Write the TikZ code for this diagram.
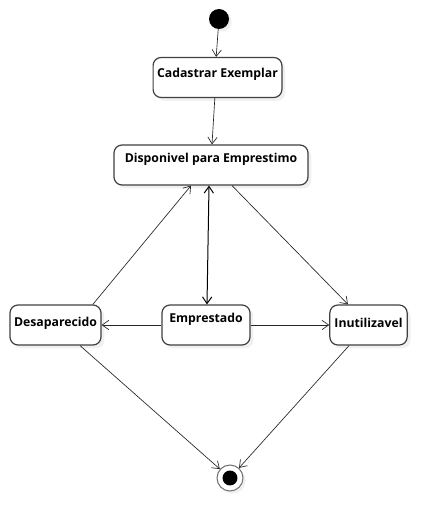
\documentclass[tikz,border=0pt]{standalone}
\usepackage{fontspec}
\setmainfont{Open Sans}
\usetikzlibrary{arrows.meta,shadows}

\tikzset{
  estado/.style={draw=black!75, line width=0.9pt, rounded corners=6pt, fill=white,
    minimum height=30pt, text height=7pt, inner xsep=3pt,
    font=\bfseries\fontsize{9.2}{10}\selectfont,
    drop shadow={opacity=0.12, shadow xshift=2.5pt, shadow yshift=-2.5pt}},
  seta/.style={draw=black!85, line width=0.5pt, -{Straight Barb[length=5pt,width=7pt]}},
}

\begin{document}
\begin{tikzpicture}[x=0.75pt,y=-0.75pt]
    \useasboundingbox (0,0) rectangle (447,531);

    % estado inicial
    \node[circle, fill=black, minimum size=15pt, inner sep=0pt,
      drop shadow={opacity=0.12, shadow xshift=2pt, shadow yshift=-2pt}] (inicio) at (219,19) {};

    % estados
    \node[estado, minimum width=95pt, text depth=6.4pt] (cadastrar) at (217.5,77.5) {Cadastrar Exemplar};
    \node[estado, minimum width=145.5pt, text depth=10.9pt] (disponivel) at (211,165) {Disponivel para Emprestimo};
    \node[estado, minimum width=68pt, text depth=4.9pt] (desaparecido) at (55.5,325) {Desaparecido};
    \node[estado, minimum width=66pt, text depth=10.9pt] (emprestado) at (206,325) {Emprestado};
    \node[estado, minimum width=58pt, text depth=3.4pt] (inutilizavel) at (368.5,325) {Inutilizavel};

    % estado final
    \node[circle, draw=black!55, line width=0.8pt, fill=white, minimum size=19.5pt, inner sep=0pt,
      drop shadow={opacity=0.12, shadow xshift=2pt, shadow yshift=-2pt}] (fim) at (230,478) {};
    \fill[black] (fim.center) circle (5.6pt);

    % transicoes
    \draw[seta] (inicio) -- ([xshift=-1pt]cadastrar.north);
    \draw[seta] ([xshift=-2pt]cadastrar.south) -- ([xshift=0.75pt]disponivel.north);
    \draw[seta] ([xshift=28pt]desaparecido.north) -- ([xshift=-15pt]disponivel.south);
    \draw[draw=black, line width=0.75pt, {Straight Barb[length=5pt,width=7pt]}-{Straight Barb[length=5pt,width=7pt]}]
      ([xshift=-1.5pt]disponivel.south) -- ([xshift=0.75pt]emprestado.north);
    \draw[seta] ([xshift=15.75pt]disponivel.south) -- ([xshift=-15.4pt]inutilizavel.north);
    \draw[seta] (emprestado.west) -- (desaparecido.east);
    \draw[seta] (emprestado.east) -- (inutilizavel.west);
    \draw[seta] ([xshift=18.4pt]desaparecido.south) -- (fim);
    \draw[seta] ([xshift=-14.6pt]inutilizavel.south) -- (fim);
\end{tikzpicture}
\end{document}
